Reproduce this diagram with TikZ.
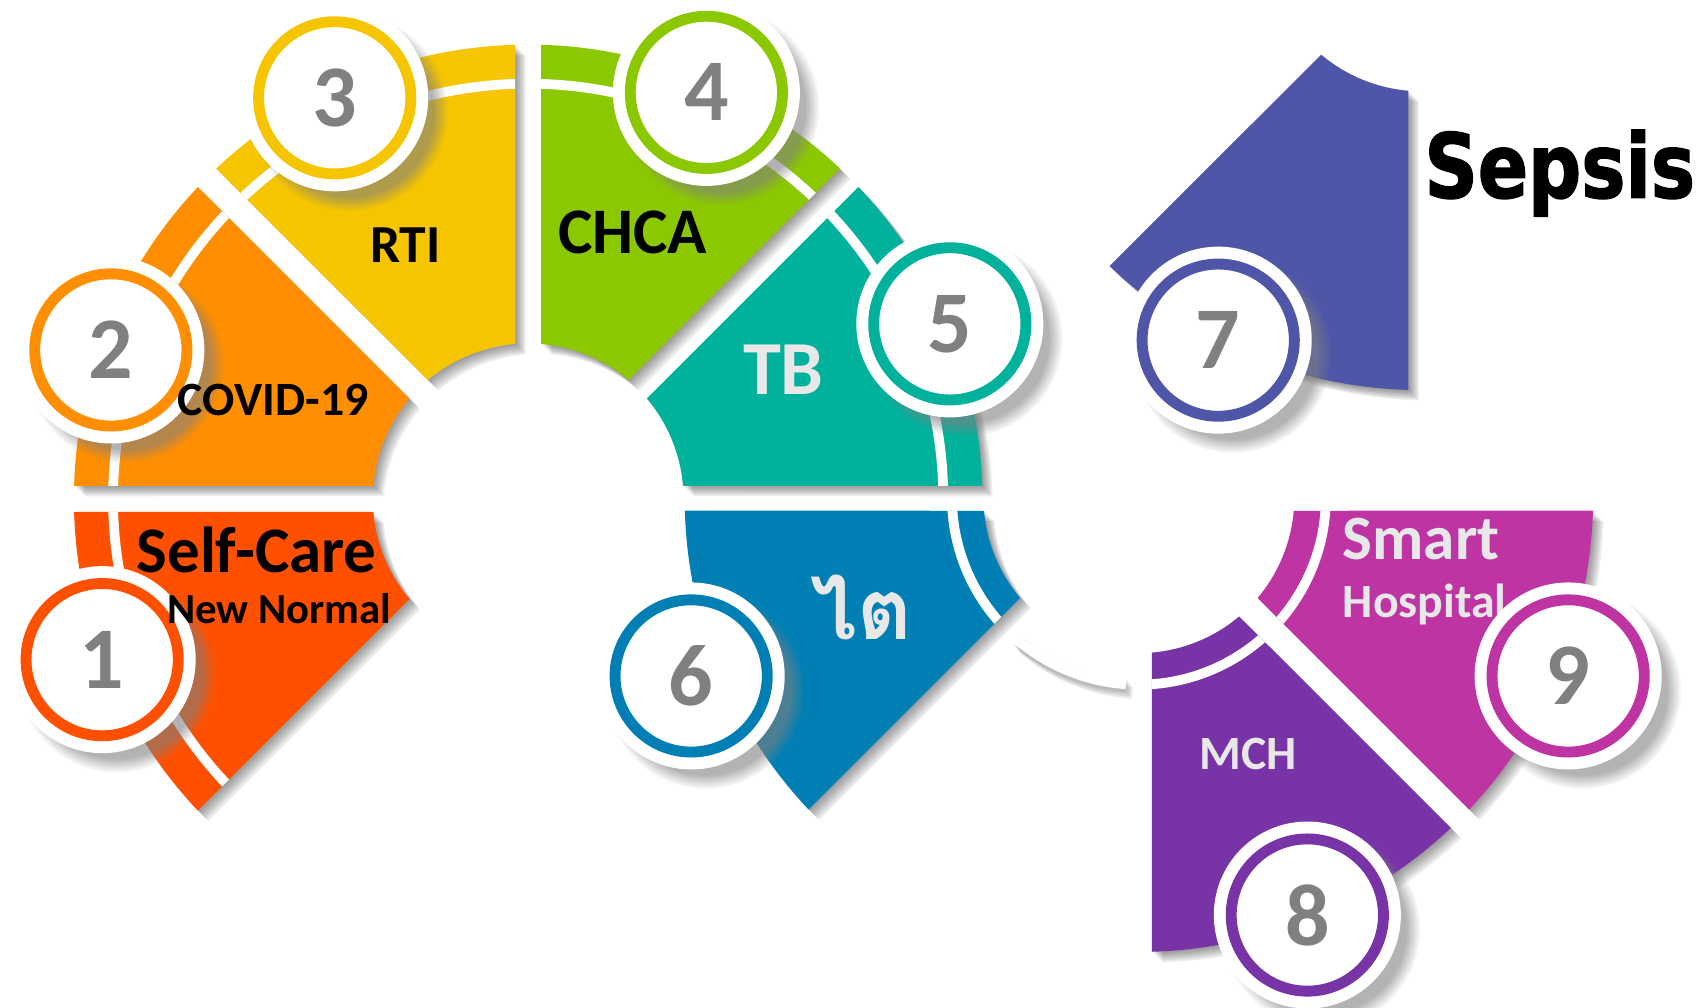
\documentclass[tikz,border=0pt]{standalone}
\usepackage{fontspec}
\setmainfont{Carlito}
\newfontfamily\sepsisfont[FakeStretch=0.83, BoldFeatures={FakeBold=1.5}]{DejaVu Sans}
\newfontfamily\thaifont[Script=Thai]{Loma}
\usetikzlibrary{shadows}

\definecolor{selfcare}{HTML}{FF5000}
\definecolor{covid}{HTML}{FF8F00}
\definecolor{rti}{HTML}{F5C500}
\definecolor{chca}{HTML}{8CC800}
\definecolor{tb}{HTML}{00B19C}
\definecolor{kidney}{HTML}{007FB4}
\definecolor{sepsis}{HTML}{4F56A8}
\definecolor{mch}{HTML}{7834A6}
\definecolor{smart}{HTML}{BF34A3}
\definecolor{numgray}{HTML}{808080}
\definecolor{lightlbl}{HTML}{E8E8E8}

% one 45 degree piece of a ring, cut back by half the gap on both sides
\newcommand\piece[2]{({#1+1.64}:418) arc[start angle={#1+1.64}, end angle={#2-1.64}, radius=418]
  -- ({#2-4.81}:143) arc[start angle={#2-4.81}, end angle={#1+4.81}, radius=143] -- cycle}

\tikzset{
  badge/.style={circle, inner sep=0pt, minimum size=1.4cm, fill=white, draw=#1, line width=1mm,
    text=numgray, font=\bfseries\fontsize{23}{23}\selectfont,
    circular drop shadow={shadow scale=1.3, shadow xshift=1mm, shadow yshift=-1mm, opacity=.6},
    preaction={draw=white, line width=3.2mm}},
  lbl/.style={inner sep=0pt, anchor=base west, font=\bfseries\fontsize{#1}{#1}\selectfont},
  soft/.style={black, opacity=.075},
  stripe/.style={white, line width=.9mm},
}

\begin{document}
\begin{tikzpicture}[x=0.01cm, y=-0.01cm]
  \useasboundingbox (0,0) rectangle (1568,927);
  \coordinate (ringL) at (486,459);
  \coordinate (ringR) at (1048,458);
  \coordinate (ringT) at (1308,-59);

  % soft shadows under the pieces
  \begin{scope}[shift={(ringL)}]
    \foreach \a in {135,180,...,315}
      \foreach \k in {1,...,6}
        \fill[soft, shift={(1.6*\k,1.6*\k)}] \piece{\a}{\a+45};
  \end{scope}
  \begin{scope}[shift={(ringR)}]
    \foreach \a in {0,45,135}
      \foreach \k in {1,...,6}
        \fill[soft, shift={(1.6*\k,1.6*\k)}] \piece{\a}{\a+45};
    \foreach \k in {1,...,4}
      \draw[soft, line width=1.1mm, shift={(1.5*\k,2*\k)}] (94:172) arc[start angle=94, end angle=131, radius=172];
  \end{scope}
  \begin{scope}[shift={(ringT)}]
    \foreach \k in {1,...,6}
      \fill[soft, shift={(1.6*\k,1.6*\k)}] \piece{90}{135};
  \end{scope}

  % left ring
  \begin{scope}[shift={(ringL)}]
    \foreach \a/\c in {135/selfcare,180/covid,225/rti,270/chca,315/tb}{
      \fill[\c] \piece{\a}{\a+45};
      \begin{scope}
        \clip \piece{\a}{\a+45};
        \draw[stripe] (\a:382) arc[start angle=\a, end angle=\a+45, radius=382];
      \end{scope}
    }
  \end{scope}

  % right ring
  \begin{scope}[shift={(ringR)}]
    \foreach \a/\c in {135/kidney,45/mch,0/smart}{
      \fill[\c] \piece{\a}{\a+45};
      \begin{scope}
        \clip \piece{\a}{\a+45};
        \draw[stripe] (\a:172) arc[start angle=\a, end angle=\a+45, radius=172];
      \end{scope}
    }
    \draw[stripe] (94:172) arc[start angle=94, end angle=131, radius=172];
  \end{scope}

  % Sepsis piece
  \begin{scope}[shift={(ringT)}]
    \fill[sepsis] \piece{90}{135};
  \end{scope}

  \node[lbl=12.5, text=lightlbl] (hosp) at (1235,568) {Hospital};

  % numbered badges
  \node[badge=selfcare] (n1) at (94,607) {1};
  \node[badge=covid] (n2) at (102,322) {2};
  \node[badge=rti] (n3) at (308,90) {3};
  \node[badge=chca] (n4) at (650,85) {4};
  \node[badge=tb] (n5) at (874,298) {5};
  \node[badge=kidney] (n6) at (636,622) {6};
  \node[badge=sepsis] (n7) at (1121,313) {7};
  \node[badge=mch] (n8) at (1203,842) {8};
  \node[badge=smart] (n9) at (1443,622) {9};

  % labels
  \node[lbl=17] (selfc) at (125,527) {Self-Care};
  \node[lbl=11.2] (newn) at (153,574) {New Normal};
  \node[lbl=12.5] (covid) at (163,382) {COVID-19};
  \node[lbl=14] (rti) at (340,242) {RTI};
  \node[lbl=17] (chca) at (513,233) {CHCA};
  \node[lbl=20, text=lightlbl] (tb) at (683,363) {TB};
  \node[lbl=22, text=lightlbl] (tai) at (745,588) {\thaifont ไต};
  \node[lbl=23.4] (seps) at (1310,182) {\sepsisfont Sepsis};
  \node[lbl=16.5, text=lightlbl] (smart) at (1235,515) {Smart};
  \node[lbl=12.5, text=lightlbl] (mch) at (1103,708) {MCH};
\end{tikzpicture}
\end{document}
